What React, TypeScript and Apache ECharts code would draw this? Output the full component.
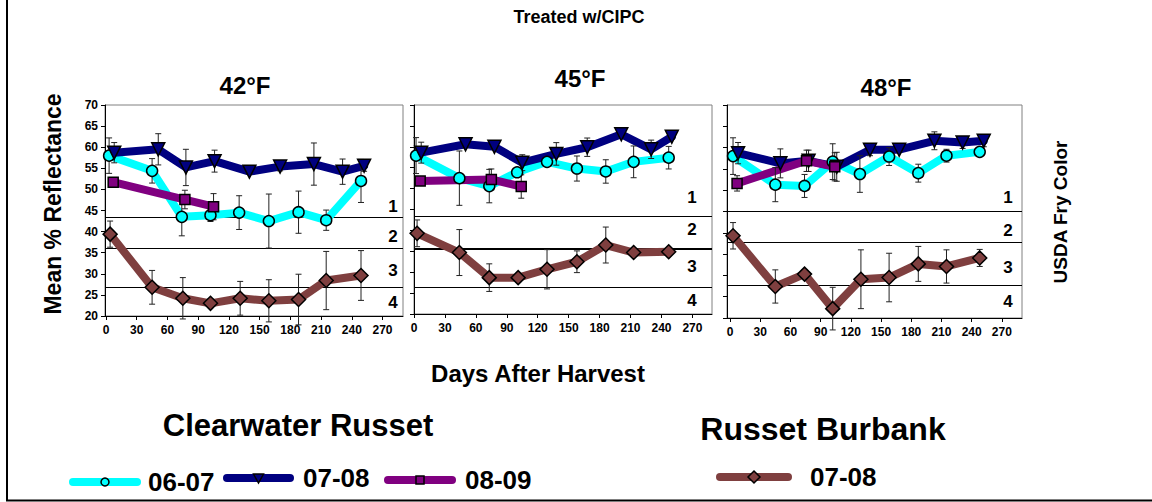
import React, { useEffect, useRef } from "react";
import * as echarts from "echarts";

// ---------- DATA ----------
const panelTitles = ["42°F", "45°F", "48°F"];
const xTickValues = [0, 30, 60, 90, 120, 150, 180, 210, 240, 270];
const fryClassLabels = ["1", "2", "3", "4"];

// 42°F
const cw0607Days42 = [3, 45, 74, 102, 130, 159, 188, 215, 249];
const cw0607Vals42 = [58.0, 54.4, 43.5, 43.9, 44.5, 42.5, 44.6, 42.7, 52.0];
const cw0607Err42 = [4.2, 2.9, 4.5, 1.5, 4.0, 6.4, 5.0, 2.4, 5.1];
const cw0708Days42 = [8, 51, 78, 106, 140, 170, 203, 231, 252];
const cw0708Vals42 = [58.7, 59.5, 55.2, 56.7, 54.2, 55.4, 56.0, 54.2, 55.6];
const cw0708Err42 = [2.4, 3.7, 4.3, 2.6, 0.6, 1.0, 5.0, 3.0, 1.3];
const cw0809Days42 = [7, 77, 105];
const cw0809Vals42 = [51.7, 47.6, 45.9];
const cw0809Err42 = [1.0, 2.2, 3.1];
const rb0708Days42 = [4, 45, 75, 102, 131, 159, 188, 215, 249];
const rb0708Vals42 = [39.4, 26.8, 24.2, 23.0, 24.2, 23.6, 23.9, 28.4, 29.6];
const rb0708Err42 = [3.1, 4.0, 4.9, 1.0, 4.0, 5.0, 6.0, 6.9, 5.9];
const fryLimits42 = [43.5, 36.0, 26.9];

// 45°F
const cw0607Days45 = [2, 44, 73, 100, 129, 158, 186, 213, 247];
const cw0607Vals45 = [57.9, 52.5, 50.6, 53.9, 56.4, 54.8, 54.1, 56.4, 57.4];
const cw0607Err45 = [4.3, 6.5, 4.0, 1.0, 1.0, 3.0, 2.8, 3.8, 2.7];
const cw0708Days45 = [7, 50, 78, 105, 138, 168, 201, 230, 250];
const cw0708Vals45 = [58.6, 60.6, 60.0, 56.2, 58.3, 59.9, 63.0, 59.4, 62.4];
const cw0708Err45 = [2.5, 0.8, 0.5, 1.9, 2.7, 2.2, 0.5, 2.2, 0.5];
const cw0809Days45 = [6, 75, 104];
const cw0809Vals45 = [51.8, 52.2, 50.5];
const cw0809Err45 = [0.5, 2.5, 2.8];
const rb0708Days45 = [3, 44, 73, 101, 129, 158, 186, 213, 247];
const rb0708Vals45 = [39.3, 34.7, 28.7, 28.7, 30.7, 32.5, 36.5, 34.7, 34.9];
const rb0708Err45 = [3.2, 5.5, 3.3, 1.0, 4.7, 2.6, 4.3, 0.5, 0.5];
const fryLimits45 = [43.4, 35.7, 26.5];

// 48°F
const cw0607Days48 = [3, 45, 74, 102, 129, 158, 187, 215, 248];
const cw0607Vals48 = [58.0, 51.3, 51.0, 56.7, 53.8, 57.9, 54.0, 58.1, 59.0];
const cw0607Err48 = [4.3, 4.0, 2.7, 4.2, 4.3, 2.1, 2.1, 1.5, 0.5];
const cw0708Days48 = [8, 50, 78, 106, 139, 168, 203, 231, 252];
const cw0708Vals48 = [58.7, 56.3, 56.9, 55.5, 59.5, 59.5, 61.6, 61.2, 61.6];
const cw0708Err48 = [2.5, 3.4, 2.5, 3.4, 1.4, 0.5, 2.1, 1.4, 1.4];
const cw0809Days48 = [7, 76, 104];
const cw0809Vals48 = [51.6, 56.9, 55.5];
const cw0809Err48 = [1.8, 2.5, 3.3];
const rb0708Days48 = [3, 45, 74, 102, 130, 158, 187, 215, 248];
const rb0708Vals48 = [39.3, 27.4, 30.3, 22.2, 29.1, 29.5, 32.7, 32.1, 34.1];
const rb0708Err48 = [3.1, 3.9, 1.0, 5.0, 6.9, 5.7, 4.1, 3.9, 2.0];
const fryLimits48 = [45.0, 37.7, 27.7];

// ---------- STYLE ----------
const FONT = "'Liberation Sans', Arial, Helvetica, sans-serif";
const CYAN = "#00ffff";
const NAVY = "#000080";
const PURPLE = "#800080";
const BROWN = "#7f3f3f";

const panels = [
  {
    grid: { left: 105, top: 105, width: 298, height: 211 },
    xMin: -1,
    xMax: 290,
    fry: fryLimits42,
    fryWidths: [1, 1, 1],
    series: [
      ["06-07", cw0607Days42, cw0607Vals42, cw0607Err42],
      ["07-08", cw0708Days42, cw0708Vals42, cw0708Err42],
      ["08-09", cw0809Days42, cw0809Vals42, cw0809Err42],
      ["RB 07-08", rb0708Days42, rb0708Vals42, rb0708Err42],
    ],
    labelPos: [393, 206, 236, 270, 302],
  },
  {
    grid: { left: 414, top: 105, width: 298, height: 209 },
    xMin: 0,
    xMax: 289,
    fry: fryLimits45,
    fryWidths: [1, 2, 1],
    series: [
      ["06-07", cw0607Days45, cw0607Vals45, cw0607Err45],
      ["07-08", cw0708Days45, cw0708Vals45, cw0708Err45],
      ["08-09", cw0809Days45, cw0809Vals45, cw0809Err45],
      ["RB 07-08", rb0708Days45, rb0708Vals45, rb0708Err45],
    ],
    labelPos: [692, 197, 229, 266, 300],
  },
  {
    grid: { left: 727, top: 105, width: 295, height: 213 },
    xMin: -3,
    xMax: 290,
    fry: fryLimits48,
    fryWidths: [1, 1, 1],
    series: [
      ["06-07", cw0607Days48, cw0607Vals48, cw0607Err48],
      ["07-08", cw0708Days48, cw0708Vals48, cw0708Err48],
      ["08-09", cw0809Days48, cw0809Vals48, cw0809Err48],
      ["RB 07-08", rb0708Days48, rb0708Vals48, rb0708Err48],
    ],
    labelPos: [1008, 197, 230, 267, 301],
  },
];

const seriesStyle: Record<string, { color: string; symbol: string; size: number; rotate: number }> = {
  "06-07": { color: CYAN, symbol: "circle", size: 11, rotate: 0 },
  "07-08": { color: NAVY, symbol: "triangle", size: 13, rotate: 180 },
  "08-09": { color: PURPLE, symbol: "rect", size: 10, rotate: 0 },
  "RB 07-08": { color: BROWN, symbol: "diamond", size: 14, rotate: 0 },
};

function buildOption() {
  const grids: any[] = [];
  const xAxes: any[] = [];
  const yAxes: any[] = [];
  const series: any[] = [];
  const graphic: any[] = [];

  panels.forEach((p, i) => {
    grids.push({
      ...p.grid,
      show: true,
      borderColor: "#808080",
      borderWidth: 1,
      backgroundColor: "transparent",
    });
    xAxes.push({
      type: "value",
      gridIndex: i,
      min: p.xMin,
      max: p.xMax,
      axisLine: { onZero: false, lineStyle: { color: "#000", width: 1 } },
      axisTick: { show: true, customValues: xTickValues, length: 4, lineStyle: { color: "#000" } },
      axisLabel: {
        customValues: xTickValues,
        fontSize: 12,
        fontWeight: "bold",
        color: "#000",
        margin: 8,
        fontFamily: FONT,
      },
      splitLine: { show: false },
    });
    yAxes.push({
      type: "value",
      gridIndex: i,
      min: 20,
      max: 70,
      interval: 5,
      axisLine: { show: true, onZero: false, lineStyle: { color: "#000", width: 1 } },
      axisTick: { show: true, length: 4, lineStyle: { color: "#000" } },
      axisLabel: {
        show: i === 0,
        fontSize: 12,
        fontWeight: "bold",
        color: "#000",
        margin: 7,
        fontFamily: FONT,
      },
      splitLine: { show: false },
    });

    p.series.forEach((s: any, si: number) => {
      const [name, days, vals, err] = s as [string, number[], number[], number[]];
      const st = seriesStyle[name];
      const pts = days.map((d, k) => [d, vals[k]]);
      const lineSeries: any = {
        type: "line",
        name,
        xAxisIndex: i,
        yAxisIndex: i,
        data: pts,
        showSymbol: false,
        symbol: "none",
        lineStyle: { color: st.color, width: 8, cap: "round", join: "round" },
        itemStyle: { color: st.color },
        z: 2 + si * 0.01,
        silent: true,
      };
      if (si === 3) {
        lineSeries.markLine = {
          silent: true,
          symbol: ["none", "none"],
          label: { show: false },
          z: 1,
          data: p.fry.map((v, k) => ({
            yAxis: v,
            lineStyle: { color: "#000", width: p.fryWidths[k], type: "solid" },
          })),
        };
      }
      series.push(lineSeries);
      series.push({
        type: "custom",
        name: name + " err",
        xAxisIndex: i,
        yAxisIndex: i,
        z: 3,
        silent: true,
        data: days.map((d, k) => [d, vals[k] - err[k], vals[k] + err[k]]),
        encode: { x: 0, y: [1, 2] },
        renderItem: (params: any, api: any) => {
          const x = api.value(0);
          const lo = api.coord([x, api.value(1)]);
          const hi = api.coord([x, api.value(2)]);
          const cw = 3;
          const ls = { stroke: "#222", lineWidth: 1 };
          return {
            type: "group",
            children: [
              { type: "line", shape: { x1: lo[0], y1: lo[1], x2: hi[0], y2: hi[1] }, style: ls },
              { type: "line", shape: { x1: lo[0] - cw, y1: lo[1], x2: lo[0] + cw, y2: lo[1] }, style: ls },
              { type: "line", shape: { x1: hi[0] - cw, y1: hi[1], x2: hi[0] + cw, y2: hi[1] }, style: ls },
            ],
          };
        },
      });
      series.push({
        type: "scatter",
        name: name + " pts",
        xAxisIndex: i,
        yAxisIndex: i,
        data: pts,
        symbol: st.symbol,
        symbolSize: st.size,
        symbolRotate: st.rotate,
        itemStyle: { color: st.color, borderColor: "#000", borderWidth: 1.5, opacity: 1 },
        z: 4 + si * 0.01,
        silent: true,
      });
    });

    graphic.push({
      type: "text",
      x: [245, 580, 886][i],
      y: [85, 78, 87][i],
      style: {
        text: panelTitles[i],
        font: `bold 24px ${FONT}`,
        fill: "#000",
        align: "center",
        verticalAlign: "middle",
      },
    });
    fryClassLabels.forEach((t, k) => {
      graphic.push({
        type: "text",
        x: p.labelPos[0],
        y: p.labelPos[k + 1],
        style: {
          text: t,
          font: `bold 17px ${FONT}`,
          fill: "#000",
          align: "center",
          verticalAlign: "middle",
        },
      });
    });
  });

  graphic.push(
    {
      type: "text",
      x: 579,
      y: 17,
      style: { text: "Treated w/CIPC", font: `bold 18px ${FONT}`, fill: "#000", align: "center", verticalAlign: "middle" },
    },
    {
      type: "text",
      x: 53,
      y: 204,
      rotation: Math.PI / 2,
      style: { text: "Mean % Reflectance", font: `bold 23px ${FONT}`, fill: "#000", align: "center", verticalAlign: "middle" },
    },
    {
      type: "text",
      x: 1060,
      y: 212,
      rotation: Math.PI / 2,
      style: { text: "USDA Fry Color", font: `bold 19px ${FONT}`, fill: "#000", align: "center", verticalAlign: "middle" },
    },
    {
      type: "text",
      x: 538,
      y: 373,
      style: { text: "Days After Harvest", font: `bold 24px ${FONT}`, fill: "#000", align: "center", verticalAlign: "middle" },
    },
    {
      type: "text",
      x: 298,
      y: 425,
      style: { text: "Clearwater Russet", font: `bold 31px ${FONT}`, fill: "#000", align: "center", verticalAlign: "middle" },
    },
    {
      type: "text",
      x: 823,
      y: 429,
      style: { text: "Russet Burbank", font: `bold 32px ${FONT}`, fill: "#000", align: "center", verticalAlign: "middle" },
    },
    {
      type: "polyline",
      shape: { points: [[7, 0], [7, 500.5], [1152, 500.5]] },
      style: { stroke: "#000", lineWidth: 2, fill: null },
    }
  );

  const legendItems = [
    { key: "06-07", label: "06-07", x0: 73, x1: 137, y: 482, tx: 148 },
    { key: "07-08", label: "07-08", x0: 227, x1: 290, y: 478, tx: 303 },
    { key: "08-09", label: "08-09", x0: 388, x1: 452, y: 480, tx: 465 },
    { key: "RB 07-08", label: "07-08", x0: 720, x1: 788, y: 477, tx: 810 },
  ];
  legendItems.forEach((it) => {
    const st = seriesStyle[it.key];
    const cx = (it.x0 + it.x1) / 2;
    graphic.push({
      type: "line",
      shape: { x1: it.x0, y1: it.y, x2: it.x1, y2: it.y },
      style: { stroke: st.color, lineWidth: 8, lineCap: "round" },
    });
    let marker: any;
    if (it.key === "06-07") {
      marker = { type: "circle", shape: { cx, cy: it.y, r: 4 } };
    } else if (it.key === "07-08") {
      marker = { type: "polygon", shape: { points: [[cx - 5, it.y - 4], [cx + 5, it.y - 4], [cx, it.y + 5]] } };
    } else if (it.key === "08-09") {
      marker = { type: "rect", shape: { x: cx - 4, y: it.y - 4, width: 8, height: 8 } };
    } else {
      marker = { type: "polygon", shape: { points: [[cx, it.y - 6], [cx + 6, it.y], [cx, it.y + 6], [cx - 6, it.y]] } };
    }
    marker.style = { fill: st.color, stroke: "#000", lineWidth: 1.5 };
    graphic.push(marker);
    graphic.push({
      type: "text",
      x: it.tx,
      y: it.y,
      style: { text: it.label, font: `bold 26px ${FONT}`, fill: "#000", align: "left", verticalAlign: "middle" },
    });
  });

  return {
    animation: false,
    backgroundColor: "#fff",
    textStyle: { fontFamily: FONT },
    grid: grids,
    xAxis: xAxes,
    yAxis: yAxes,
    series,
    graphic,
  };
}

export default function App() {
  const ref = useRef<HTMLDivElement>(null);
  useEffect(() => {
    document.body.style.margin = "0";
    if (!ref.current) return;
    const chart = echarts.init(ref.current, null, { renderer: "svg" });
    chart.setOption(buildOption() as any);
    return () => chart.dispose();
  }, []);
  return (
    <div
      ref={ref}
      style={{ position: "absolute", left: 0, top: 0, width: 1152, height: 502 }}
    />
  );
}
